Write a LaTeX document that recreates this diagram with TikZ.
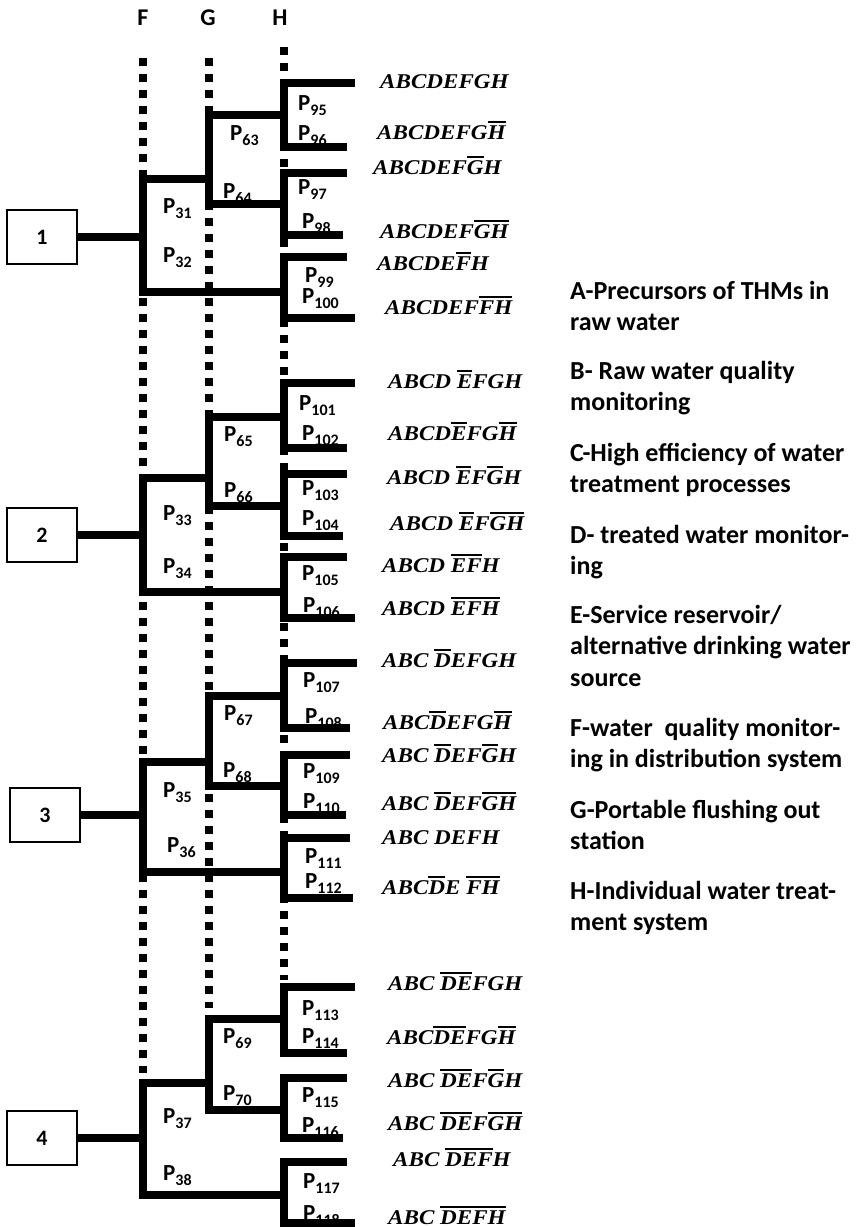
\documentclass[tikz,border=0pt]{standalone}
\usepackage{fontspec}
\setmainfont{Carlito}
\newfontfamily\leaffont[FakeStretch=1.1]{Liberation Serif}
\usetikzlibrary{positioning}

% bar over part of an event string
\newcommand\ob[1]{\vbox{\hrule height 1.7pt\kern 2.2pt\hbox{#1}}}
% path probability label
\newcommand\pl[1]{P\raisebox{-5pt}{\fontsize{16}{16}\selectfont #1}}
% bracket on the H line: top y, bottom y, right end of top, right end of bottom
\newcommand\hbrack[4]{\draw[branch] (#3,#1) -- (284,#1) -- (284,#2) -- (#4,#2);}

\begin{document}
\begin{tikzpicture}[x=1pt,y=-1pt,
  guide/.style={line width=7.5pt,dash pattern=on 7.5pt off 8.5pt},
  branch/.style={line width=8pt,line join=miter},
  numbox/.style={draw,line width=2.5pt,minimum width=70pt,minimum height=54pt,inner sep=0pt,font=\fontsize{22}{22}\selectfont\bfseries},
  colhead/.style={inner sep=0pt,font=\fontsize{24}{24}\selectfont\bfseries},
  plab/.style={anchor=base west,inner sep=0pt,font=\fontsize{23}{23}\selectfont\bfseries},
  leaf/.style={anchor=base west,inner sep=0pt,font=\leaffont\fontsize{21}{21}\selectfont\bfseries\itshape},
  legend/.style={anchor=base west,inner sep=0pt,align=left,font=\fontsize{26}{31.5}\selectfont\bfseries}]
\useasboundingbox (0,0) rectangle (864,1227);

% Column heads and dotted guides
\node[colhead] (hF) at (143,18) {F};
\node[colhead] (hG) at (208,18) {G};
\node[colhead] (hH) at (280,18) {H};
\draw[guide] (143,58) -- (143,1073);
\draw[guide] (209,58) -- (209,1008);
\draw[guide] (284,47) -- (284,980);

% Group 1
\node[numbox] (b1) at (42,237) {1};
\draw[branch] (b1.east) -- (143,237);
\draw[branch] (209,179) -- (143,179) -- (143,292) -- (284,292);
\draw[branch] (284,115) -- (209,115) -- (209,204) -- (284,204);
\hbrack{83}{147}{355}{347}
\hbrack{173}{235}{347}{343}
\hbrack{257}{318}{347}{355}
\node[plab] (p31) at (163,213) {\pl{31}};
\node[plab] (p32) at (163,262) {\pl{32}};
\node[plab] (p63) at (230,140) {\pl{63}};
\node[plab] (p64) at (223,198) {\pl{64}};
\node[plab] (p95) at (298,110) {\pl{95}};
\node[plab] (p96) at (298,140) {\pl{96}};
\node[plab] (p97) at (298,194) {\pl{97}};
\node[plab] (p98) at (302,228) {\pl{98}};
\node[plab] (p99) at (305,282) {\pl{99}};
\node[plab] (p100) at (302,303) {\pl{100}};
\node[leaf] (l95) at (380,88) {ABCDEFGH};
\node[leaf] (l96) at (377,139) {ABCDEFG\ob{H}};
\node[leaf] (l97) at (373,174) {ABCDEF\ob{G}H};
\node[leaf] (l98) at (380,238) {ABCDEF\ob{G}\ob{H}};
\node[leaf] (l99) at (377,270) {ABCDE\ob{F}H};
\node[leaf] (l100) at (385,314) {ABCDEF\ob{FH}};

% Group 2
\node[numbox] (b2) at (42,535) {2};
\draw[branch] (b2.east) -- (143,535);
\draw[branch] (209,478) -- (143,478) -- (143,592) -- (284,592);
\draw[branch] (284,417) -- (209,417) -- (209,506) -- (284,506);
\hbrack{383}{448}{355}{347}
\hbrack{474}{536}{347}{343}
\hbrack{557}{618}{347}{355}
\node[plab] (p33) at (163,520) {\pl{33}};
\node[plab] (p34) at (163,573) {\pl{34}};
\node[plab] (p65) at (224,441) {\pl{65}};
\node[plab] (p66) at (224,497) {\pl{66}};
\node[plab] (p101) at (299,410) {\pl{101}};
\node[plab] (p102) at (302,440) {\pl{102}};
\node[plab] (p103) at (302,495) {\pl{103}};
\node[plab] (p104) at (302,525) {\pl{104}};
\node[plab] (p105) at (302,580) {\pl{105}};
\node[plab] (p106) at (303,612) {\pl{106}};
\node[leaf] (l101) at (388,388) {ABCD \ob{E}FGH};
\node[leaf] (l102) at (388,440) {ABCD\ob{E}FG\ob{H}};
\node[leaf] (l103) at (387,484) {ABCD \ob{E}F\ob{G}H};
\node[leaf] (l104) at (390,530) {ABCD \ob{E}F\ob{GH}};
\node[leaf] (l105) at (382,572) {ABCD \ob{EF}H};
\node[leaf] (l106) at (382,615) {ABCD \ob{EFH}};

% Group 3
\node[numbox] (b3) at (45,815) {3};
\draw[branch] (b3.east) -- (143,815);
\draw[branch] (209,762) -- (143,762) -- (143,872) -- (284,872);
\draw[branch] (284,696) -- (209,696) -- (209,786) -- (284,786);
\hbrack{663}{728}{357}{350}
\hbrack{755}{815}{350}{346}
\hbrack{838}{898}{350}{353}
\node[plab] (p35) at (163,797) {\pl{35}};
\node[plab] (p36) at (167,852) {\pl{36}};
\node[plab] (p67) at (224,720) {\pl{67}};
\node[plab] (p68) at (223,777) {\pl{68}};
\node[plab] (p107) at (303,687) {\pl{107}};
\node[plab] (p108) at (305,723) {\pl{108}};
\node[plab] (p109) at (303,778) {\pl{109}};
\node[plab] (p110) at (303,808) {\pl{110}};
\node[plab] (p111) at (305,863) {\pl{111}};
\node[plab] (p112) at (305,888) {\pl{112}};
\node[leaf] (l107) at (382,667) {ABC \ob{D}EFGH};
\node[leaf] (l108) at (383,729) {ABC\ob{D}EFG\ob{H}};
\node[leaf] (l109) at (382,762) {ABC \ob{D}EF\ob{G}H};
\node[leaf] (l110) at (382,810) {ABC \ob{D}EF\ob{GH}};
\node[leaf] (l111) at (382,844) {ABC DEFH};
\node[leaf] (l112) at (382,894) {ABC\ob{D}E \ob{FH}};

% Group 4
\node[numbox] (b4) at (42,1138) {4};
\draw[branch] (b4.east) -- (143,1138);
\draw[branch] (209,1083) -- (143,1083) -- (143,1195) -- (284,1195);
\draw[branch] (284,1019) -- (209,1019) -- (209,1110) -- (284,1110);
\hbrack{987}{1053}{355}{347}
\hbrack{1078}{1138}{347}{343}
\hbrack{1162}{1223}{347}{355}
\node[plab] (p37) at (163,1123) {\pl{37}};
\node[plab] (p38) at (163,1180) {\pl{38}};
\node[plab] (p69) at (223,1043) {\pl{69}};
\node[plab] (p70) at (223,1100) {\pl{70}};
\node[plab] (p113) at (302,1015) {\pl{113}};
\node[plab] (p114) at (302,1043) {\pl{114}};
\node[plab] (p115) at (302,1102) {\pl{115}};
\node[plab] (p116) at (302,1132) {\pl{116}};
\node[plab] (p117) at (303,1188) {\pl{117}};
\node[plab] (p118) at (303,1220) {\pl{118}};
\node[leaf] (l113) at (388,990) {ABC \ob{DE}FGH};
\node[leaf] (l114) at (387,1044) {ABC\ob{DE}FG\ob{H}};
\node[leaf] (l115) at (388,1087) {ABC \ob{DE}F\ob{G}H};
\node[leaf] (l116) at (388,1130) {ABC \ob{DE}F\ob{GH}};
\node[leaf] (l117) at (393,1166) {ABC \ob{DEF}H};
\node[leaf] (l118) at (388,1224) {ABC \ob{DEFH}};

% Legend (base = last line)
\node[legend] (legA) at (570,330.5) {A-Precursors of THMs in\\raw water};
\node[legend] (legB) at (570,410.5) {B- Raw water quality\\monitoring};
\node[legend] (legC) at (570,492.5) {C-High efficiency of water\\treatment processes};
\node[legend] (legD) at (570,574.5) {D- treated water monitor-\\ing};
\node[legend] (legE) at (570,686) {E-Service reservoir/\\alternative drinking water\\source};
\node[legend] (legF) at (570,767.5) {F-water\ \ quality monitor-\\ing in distribution system};
\node[legend] (legG) at (570,849.5) {G-Portable flushing out\\station};
\node[legend] (legH) at (570,930.5) {H-Individual water treat-\\ment system};
\end{tikzpicture}
\end{document}
